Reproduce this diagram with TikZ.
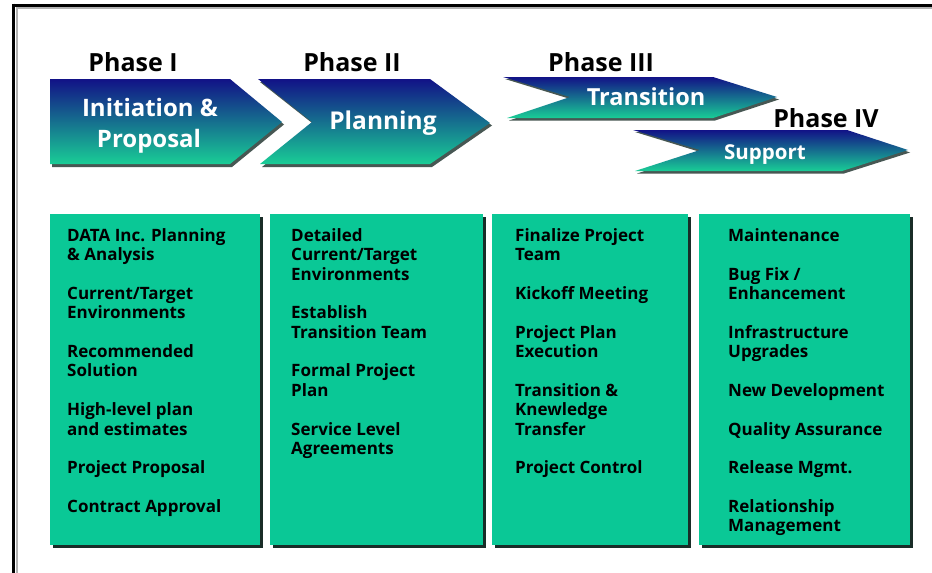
\documentclass[tikz,border=0pt]{standalone}
\usepackage{fontspec}
\setmainfont{Open Sans}
\definecolor{navy}{RGB}{18,18,135}
\definecolor{midblue}{RGB}{25,95,160}
\definecolor{teal}{RGB}{25,205,150}
\definecolor{boxfill}{RGB}{10,200,150}
\definecolor{shadowc}{RGB}{25,45,40}
\tikzset{
  arrowshade/.style={top color=navy, middle color=midblue, bottom color=teal},
  arrowshadow/.style={fill=shadowc, fill opacity=0.8},
  boxbody/.style={fill=boxfill},
  boxshadow/.style={fill=shadowc},
  phaselabel/.style={font=\bfseries\fontsize{25}{28}\selectfont, text=black, inner sep=0pt, anchor=base},
  arrowtext/.style={font=\bfseries\fontsize{24}{32}\selectfont, text=white, inner sep=0pt, anchor=base, align=center},
  boxtext/.style={font=\bfseries\fontsize{17}{19.35}\selectfont, text=black, inner sep=0pt, anchor=base west, align=left}
}
\begin{document}
\begin{tikzpicture}[x=1pt,y=-1pt]
\useasboundingbox (0,0) rectangle (932,573);
\fill[white] (0,0) rectangle (932,573);
% frame
\draw[gray!60, line width=2pt] (16,8) -- (932,8);
\draw[gray!60, line width=2pt] (17,7) -- (17,573);
\draw[black, line width=3pt] (12,5) -- (932,5);
\draw[black, line width=3pt] (13.5,3.5) -- (13.5,573);

% arrows: shadows
\fill[arrowshadow] (52,82) -- (232,82) -- (284,124.5) -- (232,167) -- (52,167) -- cycle;
\fill[arrowshadow] (260,82) -- (432,82) -- (492,125.5) -- (432,167) -- (262,167) -- (314,124.5) -- cycle;
\fill[arrowshadow] (505,79) -- (715,79) -- (779,99.5) -- (715,120.5) -- (509,120.5) -- (572,99.5) -- cycle;
\fill[arrowshadow] (635,132) -- (849,132) -- (910,152.5) -- (844,173.5) -- (637,173.5) -- (702,152.5) -- cycle;
% arrows
\shade[arrowshade] (50,79) -- (230,79) -- (282,122) -- (230,164) -- (50,164) -- cycle;
\shade[arrowshade] (258,79) -- (430,79) -- (490,123) -- (430,164) -- (260,164) -- (312,122) -- cycle;
\shade[arrowshade] (503,77) -- (713,77) -- (777,97) -- (713,118) -- (507,118) -- (570,97) -- cycle;
\shade[arrowshade] (633,130) -- (847,130) -- (908,150) -- (842,171) -- (635,171) -- (700,150) -- cycle;

% phase labels
\node[phaselabel] (p1) at (133,71.5) {Phase I};
\node[phaselabel] (p2) at (352,71.5) {Phase II};
\node[phaselabel] (p3) at (601,71.5) {Phase III};
\node[phaselabel] (p4) at (826,127) {Phase IV};

% arrow texts
\node[arrowtext] (t1) at (150,116) {Initiation \&};
\node[arrowtext] (t1b) at (149,147.5) {Proposal};
\node[arrowtext, font=\bfseries\fontsize{24.5}{30}\selectfont] (t2) at (383,129) {Planning};
\node[arrowtext, font=\bfseries\fontsize{23.5}{30}\selectfont] (t3) at (646,105.5) {Transition};
\node[arrowtext, font=\bfseries\fontsize{20.5}{26}\selectfont] (t4) at (765,159) {Support};

% boxes
\fill[boxshadow] (53,217) rectangle (263,548);
\fill[boxshadow] (273,217) rectangle (486,548);
\fill[boxshadow] (495,217) rectangle (691,548);
\fill[boxshadow] (702,217) rectangle (913,548);
\fill[boxbody] (50,214) rectangle (260,545);
\fill[boxbody] (270,214) rectangle (483,545);
\fill[boxbody] (492,214) rectangle (688,545);
\fill[boxbody] (699,214) rectangle (910,545);

\node[boxtext] (b1) at (67,512.4) {DATA Inc. Planning\\ \& Analysis\\[19.35pt]
Current/Target\\ Environments\\[19.35pt]
Recommended\\ Solution\\[19.35pt]
High-level plan\\ and estimates\\[19.35pt]
Project Proposal\\[19.35pt]
Contract Approval};

\node[boxtext] (b2) at (291,454.35) {Detailed\\ Current/Target\\ Environments\\[19.35pt]
Establish\\ Transition Team\\[19.35pt]
Formal Project\\ Plan\\[19.35pt]
Service Level\\ Agreements};

\node[boxtext] (b3) at (515,473.7) {Finalize Project\\ Team\\[19.35pt]
Kickoff Meeting\\[19.35pt]
Project Plan\\ Execution\\[19.35pt]
Transition \&\\ Knewledge\\ Transfer\\[19.35pt]
Project Control};

\node[boxtext] (b4) at (728,531.75) {Maintenance\\[19.35pt]
Bug Fix /\\ Enhancement\\[19.35pt]
Infrastructure\\ Upgrades\\[19.35pt]
New Development\\[19.35pt]
Quality Assurance\\[19.35pt]
Release Mgmt.\\[19.35pt]
Relationship\\ Management};
\end{tikzpicture}
\end{document}
